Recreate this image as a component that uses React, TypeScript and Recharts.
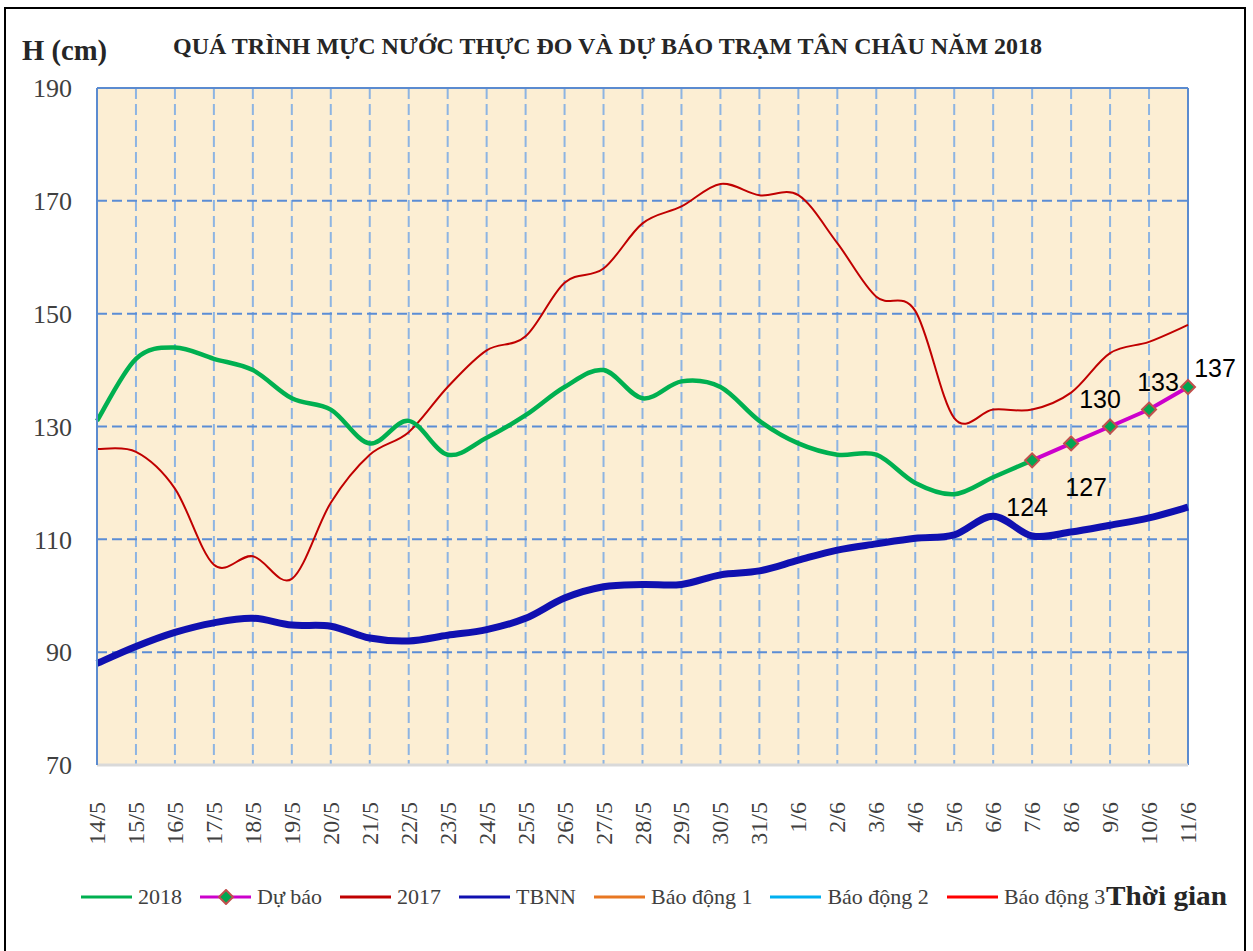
import React from "react";
import {
    LineChart,
    Line,
    XAxis,
    YAxis,
    CartesianGrid,
    ReferenceLine,
    Legend,
} from "recharts";

const categories = [
    "14/5", "15/5", "16/5", "17/5", "18/5", "19/5", "20/5", "21/5", "22/5", "23/5",
    "24/5", "25/5", "26/5", "27/5", "28/5", "29/5", "30/5", "31/5", "1/6", "2/6",
    "3/6", "4/6", "5/6", "6/6", "7/6", "8/6", "9/6", "10/6", "11/6",
];

const h2018 = [
    131, 142, 144, 142, 140, 135, 133, 127, 131, 125,
    128, 132, 137, 140, 135, 138, 137, 131, 127, 125,
    125, 120, 118, 121, 124, null, null, null, null,
];

const forecast = [
    null, null, null, null, null, null, null, null, null, null,
    null, null, null, null, null, null, null, null, null, null,
    null, null, null, null, 124, 127, 130, 133, 137,
];

const h2017 = [
    126, 125.5, 119, 105.5, 107, 103, 116.5, 125, 129, 137,
    143.5, 146, 155.5, 158, 166, 169, 173, 171, 171, 162.5,
    153, 150.5, 131.5, 133, 133, 136, 143, 145, 148,
];

const tbnn = [
    88, 91, 93.5, 95.2, 96, 94.8, 94.6, 92.5, 92, 93,
    94, 96, 99.6, 101.6, 102, 102, 103.7, 104.4, 106.3, 108.1,
    109.2, 110.2, 110.8, 114.1, 110.6, 111.3, 112.5, 113.8, 115.7,
];

const yTicks = [70, 90, 110, 130, 150, 170, 190];

const data = categories.map((day, i) => ({
    day,
    h2018: h2018[i],
    forecast: forecast[i],
    h2017: h2017[i],
    tbnn: tbnn[i],
}));

// label offsets (dx, dy) for the forecast values
const labelOffsets: Record<number, [number, number]> = {
    24: [-5, 47],
    25: [15, 44],
    26: [-10, -28],
    27: [9, -28],
    28: [27, -19],
};

// Excel-like smoothed line (Catmull-Rom through the points)
const excelSmooth: any = (context: any) => {
    let pts: [number, number][] = [];
    return {
        areaStart() {},
        areaEnd() {},
        lineStart() {
            pts = [];
        },
        point(x: number, y: number) {
            pts.push([+x, +y]);
        },
        lineEnd() {
            const n = pts.length;
            if (!n) return;
            context.moveTo(pts[0][0], pts[0][1]);
            for (let i = 0; i < n - 1; i++) {
                const p0 = pts[i - 1] || pts[i];
                const p1 = pts[i];
                const p2 = pts[i + 1];
                const p3 = pts[i + 2] || p2;
                context.bezierCurveTo(
                    p1[0] + (p2[0] - p0[0]) / 6,
                    p1[1] + (p2[1] - p0[1]) / 6,
                    p2[0] - (p3[0] - p1[0]) / 6,
                    p2[1] - (p3[1] - p1[1]) / 6,
                    p2[0],
                    p2[1]
                );
            }
        },
    };
};

const serif = "'Liberation Serif', 'Times New Roman', serif";

const XTick = ({ x, y, payload }: any) => (
    <text
        x={x}
        y={y}
        transform={`rotate(-90, ${x}, ${y})`}
        textAnchor="end"
        dominantBaseline="central"
        fontFamily={serif}
        fontSize={24}
        fill="#404040"
    >
        {payload.value}
    </text>
);

const Diamond = (props: any) => {
    const { cx, cy, value, index } = props;
    if (value == null || cx == null) return <g key={`d-${index}`} />;
    const r = 7;
    return (
        <polygon
            key={`d-${index}`}
            points={`${cx},${cy - r} ${cx + r},${cy} ${cx},${cy + r} ${cx - r},${cy}`}
            fill="#00A651"
            stroke="#C0504D"
            strokeWidth={2}
        />
    );
};

const ForecastLabel = (props: any) => {
    const { x, y, value } = props;
    if (value == null) return null;
    const idx = props.index != null ? props.index : forecast.indexOf(value);
    const off = labelOffsets[idx] || [0, -20];
    return (
        <text
            x={x + off[0]}
            y={y + off[1]}
            textAnchor="middle"
            dominantBaseline="central"
            fontFamily="'Liberation Sans', Arial, sans-serif"
            fontSize={25}
            fill="#000"
        >
            {value}
        </text>
    );
};

const legendItems = [
    { name: "2018", color: "#00B050", marker: false },
    { name: "Dự báo", color: "#CC00CC", marker: true },
    { name: "2017", color: "#C00000", marker: false },
    { name: "TBNN", color: "#1010B0", marker: false },
    { name: "Báo động 1", color: "#E87722", marker: false },
    { name: "Báo động 2", color: "#00B0F0", marker: false },
    { name: "Báo động 3", color: "#FF0000", marker: false },
];

const LegendContent = () => (
    <div
        style={{
            display: "flex",
            alignItems: "center",
            height: 40,
            paddingLeft: 81,
            fontFamily: serif,
            fontSize: 22,
            color: "#404040",
        }}
    >
        {legendItems.map((item) => (
            <div key={item.name} style={{ display: "flex", alignItems: "center", marginRight: 18 }}>
                <svg width={51} height={16} style={{ display: "block" }}>
                    <line x1={0} y1={8} x2={51} y2={8} stroke={item.color} strokeWidth={3} />
                    {item.marker && (
                        <polygon points="26,1 33,8 26,15 19,8" fill="#00A651" stroke="#C0504D" strokeWidth={2} />
                    )}
                </svg>
                <span style={{ marginLeft: 6, whiteSpace: "nowrap" }}>{item.name}</span>
            </div>
        ))}
    </div>
);

export default function App() {
    return (
        <div style={{ position: "absolute", left: 0, top: 0, width: 1253, height: 951, background: "#fff", overflow: "hidden" }}>
            <div
                style={{
                    position: "absolute",
                    left: 4,
                    top: 7,
                    width: 1242,
                    height: 960,
                    border: "2px solid #000",
                    boxSizing: "border-box",
                }}
            />
            <LineChart
                width={1253}
                height={951}
                data={data}
                margin={{ top: 88, right: 65, bottom: 34, left: 0 }}
            >
                <CartesianGrid
                    horizontal={false}
                    vertical={true}
                    fill="#FCEED3"
                    stroke="#8DB4E2"
                    strokeWidth={2}
                    strokeDasharray="11 5"
                />
                <CartesianGrid
                    horizontal={true}
                    vertical={false}
                    stroke="#5B8DD5"
                    strokeWidth={2}
                    strokeDasharray="10 5"
                />
                <XAxis
                    dataKey="day"
                    height={112}
                    interval={0}
                    tick={<XTick />}
                    tickLine={false}
                    tickSize={0}
                    tickMargin={37}
                    axisLine={{ stroke: "#D9D9D9", strokeWidth: 3 }}
                />
                <YAxis
                    width={97}
                    domain={[70, 190]}
                    ticks={yTicks}
                    interval={0}
                    tickLine={false}
                    tickSize={0}
                    tickMargin={25}
                    axisLine={{ stroke: "#5B8BD0", strokeWidth: 2 }}
                    tick={{ fontFamily: serif, fontSize: 26, fill: "#404040" }}
                />
                <ReferenceLine y={190} stroke="#5B8BD0" strokeWidth={2} />
                <ReferenceLine x="11/6" stroke="#5B8BD0" strokeWidth={2} />
                <Legend verticalAlign="bottom" content={<LegendContent />} wrapperStyle={{ height: 40 }} />
                <Line
                    dataKey="h2017"
                    name="2017"
                    type={excelSmooth}
                    stroke="#C00000"
                    strokeWidth={2}
                    dot={false}
                    isAnimationActive={false}
                />
                <Line
                    dataKey="tbnn"
                    name="TBNN"
                    type={excelSmooth}
                    stroke="#1010B0"
                    strokeWidth={7}
                    dot={false}
                    isAnimationActive={false}
                />
                <Line
                    dataKey="h2018"
                    name="2018"
                    type={excelSmooth}
                    stroke="#00B050"
                    strokeWidth={4.5}
                    dot={false}
                    isAnimationActive={false}
                />
                <Line
                    dataKey="forecast"
                    name="Dự báo"
                    type="linear"
                    stroke="#CC00CC"
                    strokeWidth={4}
                    dot={<Diamond />}
                    label={<ForecastLabel />}
                    isAnimationActive={false}
                />
            </LineChart>
            <svg
                width={1253}
                height={951}
                style={{ position: "absolute", left: 0, top: 0, pointerEvents: "none" }}
            >
                <text x={22} y={60} fontFamily={serif} fontWeight="bold" fontSize={30} fill="#262626" textLength={85} lengthAdjust="spacingAndGlyphs">
                    H (cm)
                </text>
                <text x={173} y={54} fontFamily={serif} fontWeight="bold" fontSize={23} fill="#262626" textLength={869} lengthAdjust="spacingAndGlyphs">
                    QUÁ TRÌNH MỰC NƯỚC THỰC ĐO VÀ DỰ BÁO TRẠM TÂN CHÂU NĂM 2018
                </text>
                <text x={1106} y={905} fontFamily={serif} fontWeight="bold" fontSize={28} fill="#262626" textLength={121} lengthAdjust="spacingAndGlyphs">
                    Thời gian
                </text>
            </svg>
        </div>
    );
}
